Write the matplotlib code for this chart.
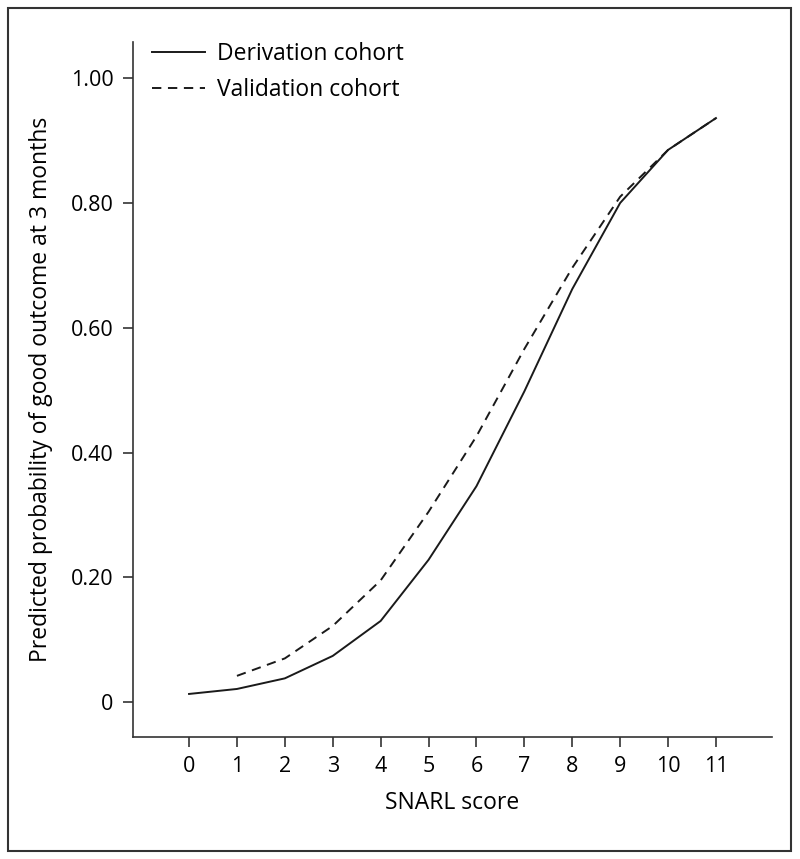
import numpy as np
import matplotlib.pyplot as plt
from matplotlib.patches import Rectangle

plt.rcParams['font.family'] = ['Open Sans', 'DejaVu Sans']

score = [0, 1, 2, 3, 4, 5, 6, 7, 8, 9, 10, 11]
derivation = [0.013, 0.021, 0.038, 0.074, 0.13, 0.228, 0.346, 0.498, 0.662, 0.80, 0.885, 0.936]
val_score = [1, 2, 3, 4, 5, 6, 7, 8, 9, 10, 11]
validation = [0.042, 0.07, 0.122, 0.195, 0.305, 0.426, 0.566, 0.696, 0.81, 0.885, 0.936]

yticks = [0, 0.2, 0.4, 0.6, 0.8, 1.0]
ytick_labels = ['0', '0.20', '0.40', '0.60', '0.80', '1.00']

fig = plt.figure(figsize=(8, 8.59), dpi=100)
ax = fig.add_axes([133 / 800, 1 - 737 / 859, (772 - 133) / 800, (737 - 42) / 859])

ax.plot(score, derivation, color='#1a1a1a', lw=1.4, label='Derivation cohort')
ax.plot(val_score, validation, color='#1a1a1a', lw=1.4, ls=(0, (4.8, 3.4)), label='Validation cohort')

ax.set_xlim(-1.17, 12.17)
ax.set_ylim(-0.056, 1.058)
ax.set_xticks(score)
ax.set_yticks(yticks)
ax.set_yticklabels(ytick_labels)

for s in ['top', 'right']:
    ax.spines[s].set_visible(False)
for s in ['left', 'bottom']:
    ax.spines[s].set_color('#333333')
    ax.spines[s].set_linewidth(1.2)
ax.tick_params(direction='out', length=7, width=1.2, color='#333333', labelsize=15.5, pad=7)

ax.set_xlabel('SNARL score', fontsize=16.5, labelpad=10)
ax.set_ylabel('Predicted probability of good outcome at 3 months', fontsize=16.5, labelpad=13)

ax.legend(loc='upper left', bbox_to_anchor=(-0.002, 1.03), frameon=False, fontsize=16.5,
          handlelength=2.3, handletextpad=0.5, labelspacing=0.55)

fig.patches.append(Rectangle((8 / 800, 1 - 851 / 859), 783 / 800, 843 / 859,
                             transform=fig.transFigure, fill=False, edgecolor='#333333', lw=1.5))

fig.savefig('out.png', dpi=100)
